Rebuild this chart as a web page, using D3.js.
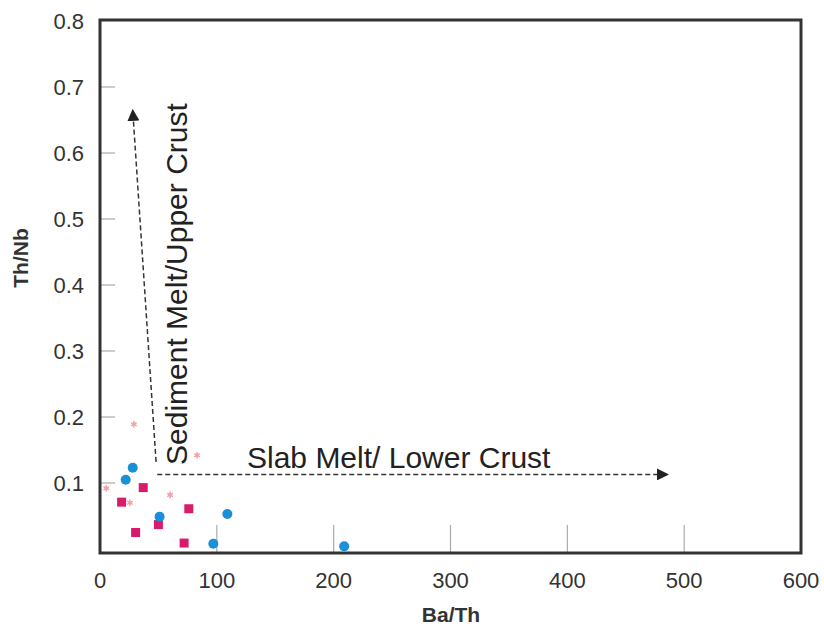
<!DOCTYPE html>
<html><head><meta charset="utf-8">
<script src="https://cdn.jsdelivr.net/npm/d3@7"></script>
<style>body{margin:0;background:#fff;} svg{display:block;font-family:Arial,"Liberation Sans",sans-serif;}</style>
</head><body>
<svg id="chart" width="824" height="630"></svg>
<script>
const xTicks = [0, 100, 200, 300, 400, 500, 600];
const yTicks = [0.1, 0.2, 0.3, 0.4, 0.5, 0.6, 0.7, 0.8];
const blueX = [28, 22, 51, 109, 97, 209];
const blueY = [0.123, 0.105, 0.049, 0.053, 0.008, 0.004];
const squareX = [37, 18.5, 76, 50, 30.5, 72];
const squareY = [0.093, 0.071, 0.061, 0.037, 0.025, 0.009];
const starX = [29, 83, 5.4, 60, 25.6];
const starY = [0.189, 0.142, 0.092, 0.082, 0.070];
const sedArrow = [[48, 0.132], [28, 0.665]];
const slabArrow = [[49, 0.113], [486, 0.113]];

(function () {
const svg = d3.select("#chart");
const x = d3.scaleLinear().domain([0, 600]).range([100, 801]);
const y = d3.scaleLinear().domain([0, 0.8]).range([549, 21]);
const pL = 100, pR = 801, pT = 20, pB = 553;

svg.append("defs").append("marker").attr("id", "ah")
  .attr("viewBox", "0 0 10 10").attr("refX", 9).attr("refY", 5)
  .attr("markerWidth", 12).attr("markerHeight", 12).attr("markerUnits", "userSpaceOnUse")
  .attr("orient", "auto")
  .append("path").attr("d", "M0,0 L10,5 L0,10 z").attr("fill", "#222");

// inner ticks
svg.append("g").selectAll("line").data(xTicks.filter(d => d > 0 && d < 600)).join("line")
  .attr("x1", d => x(d)).attr("x2", d => x(d)).attr("y1", pB).attr("y2", pB - 28)
  .attr("stroke", "#aaa").attr("stroke-width", 1.2);
svg.append("g").selectAll("line").data(yTicks.filter(d => d < 0.8)).join("line")
  .attr("x1", pL).attr("x2", pL + 15).attr("y1", d => y(d)).attr("y2", d => y(d))
  .attr("stroke", "#aaa").attr("stroke-width", 1.2);

// frame
svg.append("rect").attr("x", pL).attr("y", pT).attr("width", pR - pL).attr("height", pB - pT)
  .attr("fill", "none").attr("stroke", "#333").attr("stroke-width", 3);

// tick labels
svg.append("g").selectAll("text").data(xTicks).join("text")
  .attr("x", d => x(d)).attr("y", 588).attr("text-anchor", "middle")
  .attr("font-size", 22).attr("fill", "#333").text(d => d);
svg.append("g").selectAll("text").data(yTicks).join("text")
  .attr("x", 84).attr("y", d => y(d) + 8).attr("text-anchor", "end")
  .attr("font-size", 22).attr("fill", "#333").text(d => d.toFixed(1));

// axis titles
svg.append("text").attr("x", 451).attr("y", 622).attr("text-anchor", "middle")
  .attr("font-size", 21).attr("font-weight", "bold").attr("fill", "#333").text("Ba/Th");
svg.append("text").attr("transform", "translate(28,258) rotate(-90)").attr("text-anchor", "middle")
  .attr("font-size", 21).attr("font-weight", "bold").attr("fill", "#333").text("Th/Nb");

// arrows
const line = d3.line().x(d => x(d[0])).y(d => y(d[1]));
[sedArrow, slabArrow].forEach(a => {
  svg.append("path").attr("d", line(a)).attr("fill", "none").attr("stroke", "#333")
    .attr("stroke-width", 1.5).attr("stroke-dasharray", "5,3").attr("marker-end", "url(#ah)");
});

// annotations
svg.append("text").attr("transform", "translate(187,465) rotate(-90)")
  .attr("font-size", 30).attr("fill", "#222").text("Sediment Melt/Upper Crust");
svg.append("text").attr("x", 247).attr("y", 468)
  .attr("font-size", 30).attr("fill", "#222").text("Slab Melt/ Lower Crust");

// points
svg.append("g").selectAll("path").data(starX.map((v, i) => [v, starY[i]])).join("path")
  .attr("transform", d => `translate(${x(d[0])},${y(d[1])})`)
  .attr("d", d3.symbol(d3.symbolAsterisk, 30))
  .attr("stroke", "#f3a0aa").attr("stroke-width", 1.5).attr("fill", "none");
svg.append("g").selectAll("rect").data(squareX.map((v, i) => [v, squareY[i]])).join("rect")
  .attr("x", d => x(d[0]) - 4.5).attr("y", d => y(d[1]) - 4.5).attr("width", 9).attr("height", 9)
  .attr("fill", "#d81b6a");
svg.append("g").selectAll("circle").data(blueX.map((v, i) => [v, blueY[i]])).join("circle")
  .attr("cx", d => x(d[0])).attr("cy", d => y(d[1])).attr("r", 5)
  .attr("fill", "#1b8fd8");
})();
</script>
</body></html>
